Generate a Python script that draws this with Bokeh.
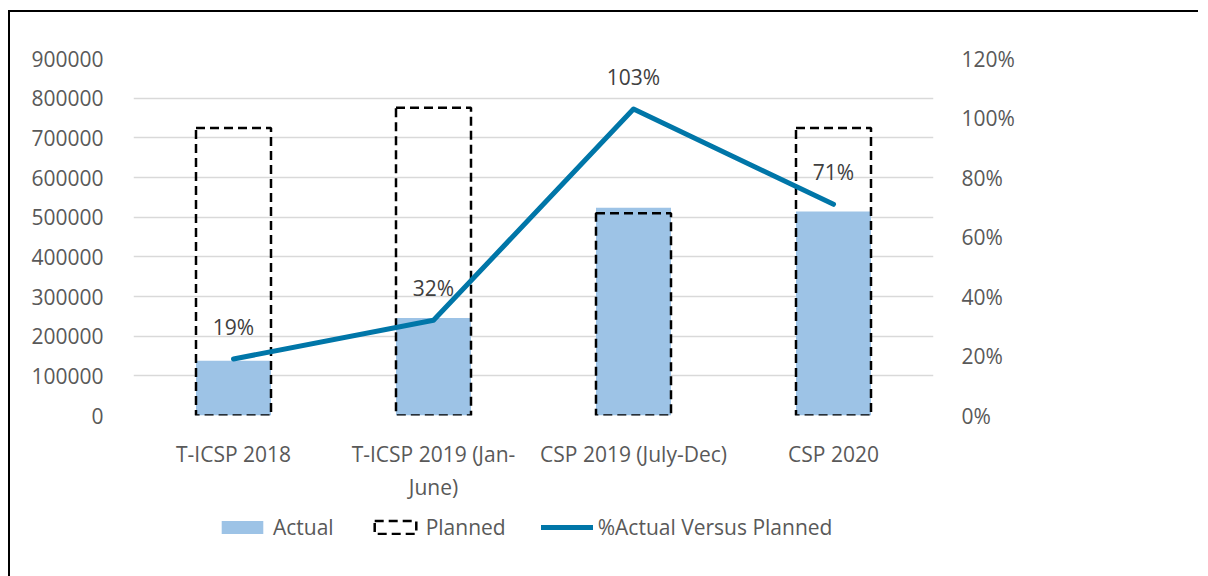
from bokeh.plotting import figure
from bokeh.models import (Range1d, LinearAxis, FixedTicker, Legend, LegendItem,
                          ColumnDataSource, LabelSet, NumeralTickFormatter)
from bokeh.layouts import column
from bokeh.embed import file_html
from bokeh.resources import INLINE
from bokeh.core.properties import value

categories = ["T-ICSP 2018", "T-ICSP 2019 (Jan-June)", "CSP 2019 (July-Dec)", "CSP 2020"]
category_labels = ["T-ICSP 2018", "T-ICSP 2019 (Jan-\nJune)", "CSP 2019 (July-Dec)", "CSP 2020"]
actual = [138000, 246000, 524000, 514000]
planned = [725000, 776000, 510000, 725000]
pct = [0.19, 0.32, 1.03, 0.71]
pct_labels = ["19%", "32%", "103%", "71%"]
left_ticks = [0, 100000, 200000, 300000, 400000, 500000, 600000, 700000, 800000, 900000]
right_ticks = [0, 0.2, 0.4, 0.6, 0.8, 1.0, 1.2]
legend_labels = ["Actual", "Planned", "%Actual Versus Planned"]

FONT = "Open Sans"
BAR_FILL = "#9DC3E6"
LINE_COL = "#0076A8"
xpos = [i + 0.5 for i in range(len(categories))]
src = ColumnDataSource(dict(x=xpos, cat=categories, actual=actual, planned=planned,
                            pct=pct, lab=pct_labels))

p = figure(x_range=Range1d(0, len(categories)), y_range=Range1d(0, 900000),
           frame_width=800, frame_height=357, output_backend="svg", toolbar_location=None,
           min_border_left=123, min_border_right=265, min_border_top=46,
           min_border_bottom=90)
p.outline_line_color = None
p.extra_y_ranges = {"pct": Range1d(0, 1.2)}

p.xgrid.grid_line_color = None
p.ygrid.grid_line_color = "#D9D9D9"
p.ygrid.grid_line_width = 1.5
p.ygrid.ticker = FixedTicker(ticks=left_ticks)

p.yaxis[0].ticker = FixedTicker(ticks=left_ticks)
p.yaxis[0].formatter = NumeralTickFormatter(format="0")

p.xaxis[0].ticker = FixedTicker(ticks=xpos)
p.xaxis[0].major_label_overrides = {x: lab for x, lab in zip(xpos, category_labels)}

ra = LinearAxis(y_range_name="pct", ticker=FixedTicker(ticks=right_ticks),
                formatter=NumeralTickFormatter(format="0%"))
p.add_layout(ra, "right")

for ax in [p.yaxis[0], ra, p.xaxis[0]]:
    ax.axis_line_color = None
    ax.major_tick_line_color = None
    ax.minor_tick_line_color = None
    ax.major_label_text_font = FONT
    ax.major_label_text_font_size = "21px"
    ax.major_label_text_color = "#595959"
p.yaxis[0].major_label_standoff = 24
ra.major_label_standoff = 22
p.xaxis[0].major_label_standoff = 18

bar_kw = dict(fill_color=BAR_FILL, line_color=None)
plan_kw = dict(fill_color=None, line_color="black", line_width=2.5, line_dash="9 5")
line_kw = dict(line_color=LINE_COL, line_width=5, line_cap="round", line_join="round")

p.vbar(x="x", top="actual", width=0.375, source=src, **bar_kw)
p.vbar(x="x", top="planned", width=0.375, source=src, **plan_kw)
p.line(x="x", y="pct", source=src, y_range_name="pct", **line_kw)

labels = LabelSet(x="x", y="pct", text="lab", source=src, y_range_name="pct",
                  y_offset=32, text_align="center", text_baseline="middle",
                  text_font=value(FONT), text_font_size="21px", text_color="#404040")
p.add_layout(labels)

# legend strip below the chart (legend glyphs from hidden copies of the series)
p2 = figure(x_range=Range1d(0, len(categories)), y_range=Range1d(0, 900000),
            frame_width=800, frame_height=72, output_backend="svg", toolbar_location=None,
            min_border_left=123, min_border_right=265, min_border_top=0, min_border_bottom=0)
p2.axis.visible = False
p2.grid.visible = False
p2.outline_line_color = None
l_act = p2.vbar(x="x", top="actual", width=0.375, source=src, visible=False, **bar_kw)
l_plan = p2.vbar(x="x", top="planned", width=0.375, source=src, visible=False, **plan_kw)
l_line = p2.line(x="x", y="actual", source=src, visible=False, **line_kw)

legend = Legend(items=[LegendItem(label=t, renderers=[r])
                       for t, r in zip(legend_labels, [l_act, l_plan, l_line])],
                orientation="horizontal", location=(83, 36),
                glyph_width=52, glyph_height=16, label_standoff=5, spacing=35,
                label_text_font=FONT, label_text_font_size="21px",
                label_text_color="#595959", border_line_color=None,
                background_fill_alpha=0, margin=0, padding=0)
p2.add_layout(legend, "center")

lay = column(p, p2, spacing=0,
             styles={"border-left": "2px solid black", "border-top": "2px solid black",
                     "margin-left": "8px", "margin-top": "10px"})

open("out.html", "w").write(file_html(lay, INLINE))
